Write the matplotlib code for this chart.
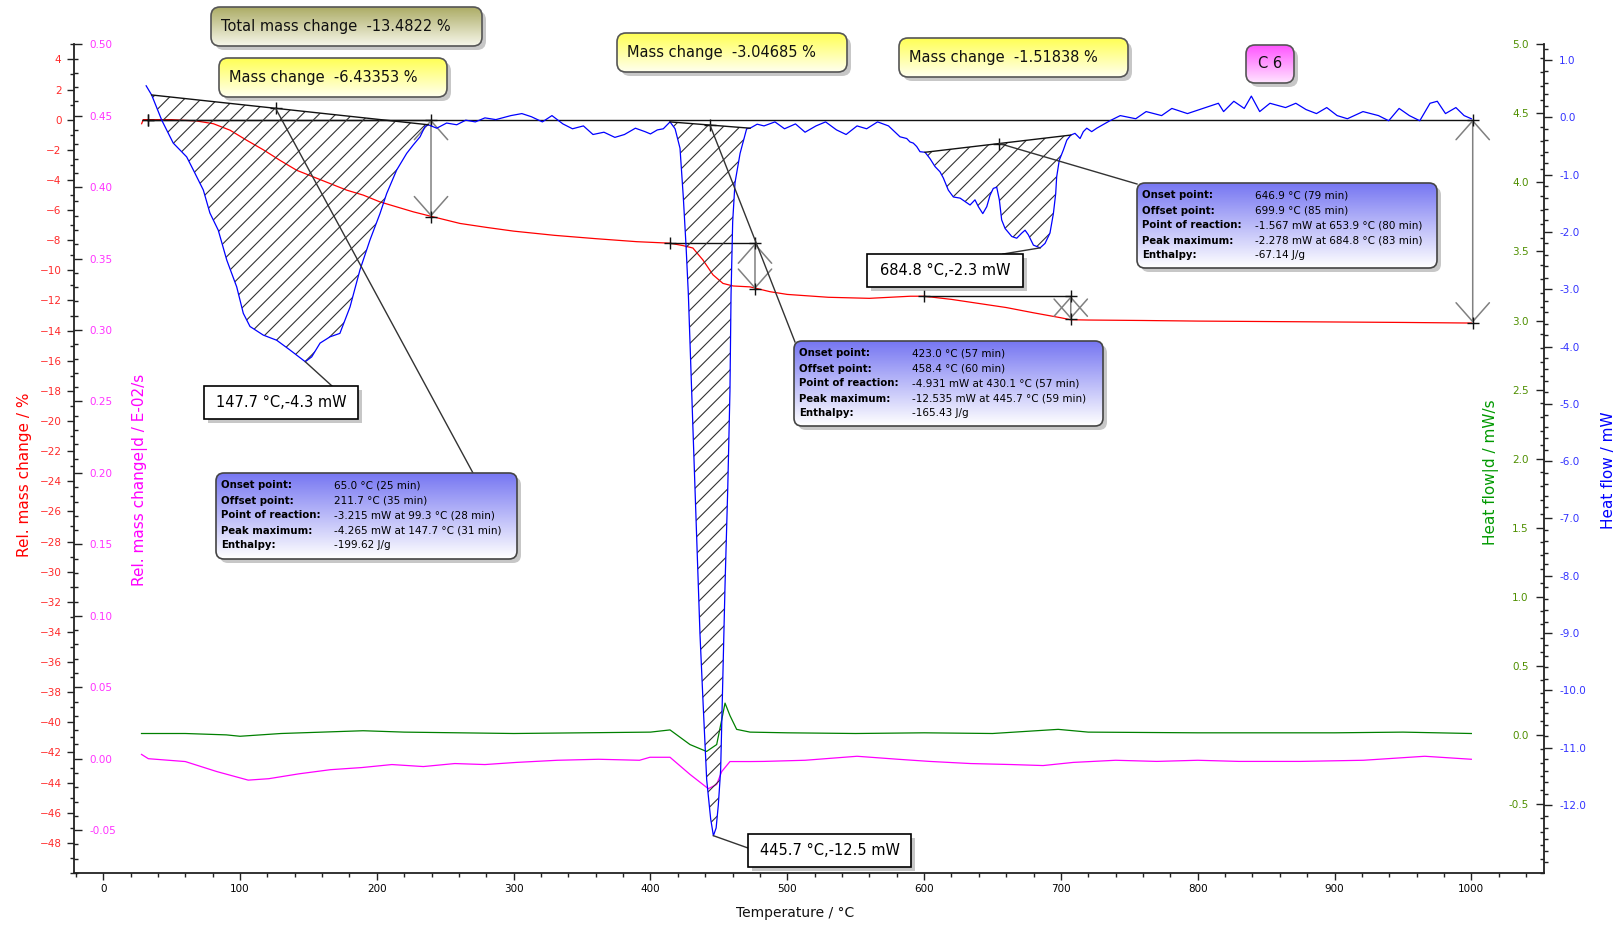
import numpy as np
import matplotlib
matplotlib.use("Agg")
import matplotlib.pyplot as plt
from matplotlib.patches import FancyBboxPatch
from matplotlib.ticker import MultipleLocator, FormatStrFormatter
from matplotlib.colors import to_rgb

plt.rcParams['font.family'] = ['DejaVu Sans']
plt.rcParams['hatch.linewidth'] = 0.8

# ---------------- data ----------------
red_T = [28.1, 29.3, 50, 68.3, 80.5, 92.7, 104.9, 117.0, 129.2, 141.4, 153.6, 165.8, 178.0, 190.1,
         202.3, 214.5, 226.7, 238.9, 260.8, 280, 300, 330, 360, 390, 414.3, 423.8, 431.0, 438.4,
         445.7, 453.0, 460.4, 472.8, 487.4, 500, 530, 560, 590, 600, 620, 640, 660, 680, 700, 707,
         720, 760, 800, 850, 900, 950, 1000]
red_pct = [-0.27, 0.0, 0.0, -0.09, -0.27, -0.7, -1.37, -2.0, -2.7, -3.36, -3.8, -4.24, -4.68, -5.01,
           -5.46, -5.79, -6.12, -6.40, -6.89, -7.15, -7.4, -7.68, -7.9, -8.1, -8.2, -8.36, -8.52, -9.32,
           -10.3, -10.87, -11.04, -11.1, -11.42, -11.6, -11.79, -11.86, -11.72, -11.72, -11.93, -12.2,
           -12.47, -12.82, -13.15, -13.28, -13.3, -13.33, -13.37, -13.4, -13.43, -13.46, -13.5]

blue_T = [31.4, 35.4, 42.8, 51.2, 61.0, 65.9, 73.2, 78.0, 84.1, 90.3, 97.6, 102.4, 107.3, 117.0, 126.8,
          136.5, 147.7, 152.4, 158.5, 165.8, 173.0, 180.4, 187.7, 195.0, 202.3, 207.2, 214.5, 221.8,
          226.7, 231.6, 235.2, 237.6, 243.8, 251.0, 258.4, 265, 272, 279, 287, 298, 306, 313, 321, 328,
          336, 343, 351, 358, 366, 374, 381, 389, 396, 400, 405, 409.4, 414.3, 418, 421.6, 424, 426,
          427.7, 428.9, 430.1, 431.3, 432.6, 433.8, 435.0, 436.2, 438.6, 441.1, 444.0, 446.0, 448.0,
          449.6, 451.3, 452.8, 454.5, 456.5, 458.1, 458.9, 460.1, 461.8, 465.5, 470.3, 472.8, 478, 483,
          491, 498, 506, 513, 521, 528, 536, 543, 551, 558, 566, 574, 582.4, 587.3, 589.7, 592.1, 594.6,
          597.0, 600.7, 604.3, 608.0, 611.6, 614.1, 617.7, 621.4, 626.3, 629.9, 633.6, 637.2, 639.7,
          642.9, 645.8, 648.2, 650.6, 653.1, 655.0, 656.7, 659.2, 664.1, 667.7, 671.4, 673.8, 676.2,
          679.9, 684.8, 688.4, 692.0, 694.5, 696.2, 696.9, 698.8, 701.8, 704.3, 707.2, 710.3, 714.0,
          716.4, 718.9, 722.5, 726.2, 735.8, 743.4, 754.7, 762.3, 773.6, 781.1, 792.5, 803.8, 815.1,
          818.9, 826.4, 834.0, 839.2, 845.3, 852.8, 864.2, 871.7, 879.2, 886.8, 894.3, 901.9, 909.4,
          920.8, 932.1, 939.6, 947.2, 954.7, 962.3, 969.8, 975.1, 981.1, 988.7, 994.7, 1000]
blue_mW = [0.55, 0.39, -0.05, -0.45, -0.69, -0.92, -1.27, -1.67, -1.97, -2.49, -2.96, -3.42, -3.65, -3.80,
           -3.89, -4.06, -4.265, -4.18, -3.94, -3.83, -3.77, -3.31, -2.66, -2.14, -1.68, -1.33, -0.92,
           -0.63, -0.48, -0.34, -0.16, -0.13, -0.19, -0.10, -0.13, -0.05, -0.08, -0.01, -0.04, 0.03,
           0.065, 0.01, -0.08, 0.03, -0.115, -0.2, -0.15, -0.3, -0.26, -0.35, -0.3, -0.19, -0.25, -0.29,
           -0.22, -0.2, -0.08, -0.2, -0.54, -1.39, -2.24, -3.09, -3.93, -4.78, -5.63, -6.47, -7.32,
           -8.17, -9.02, -10.29, -11.56, -12.24, -12.535, -12.4, -12.0, -11.39, -9.86, -8.17, -6.47,
           -4.78, -3.09, -1.82, -1.14, -0.63, -0.2, -0.19, -0.12, -0.15, -0.08, -0.2, -0.115, -0.26,
           -0.15, -0.08, -0.22, -0.3, -0.15, -0.2, -0.08, -0.15, -0.34, -0.37, -0.43, -0.45, -0.51,
           -0.60, -0.61, -0.72, -0.86, -0.95, -1.06, -1.27, -1.39, -1.41, -1.47, -1.53, -1.44, -1.56,
           -1.68, -1.56, -1.36, -1.24, -1.22, -1.44, -1.79, -1.94, -2.08, -2.11, -2.02, -1.97, -2.05,
           -2.23, -2.278, -2.20, -2.02, -1.68, -1.33, -1.04, -0.75, -0.57, -0.40, -0.31, -0.28, -0.37,
           -0.25, -0.19, -0.25, -0.19, -0.06, 0.03, -0.025, 0.10, 0.03, 0.155, 0.065, 0.155, 0.245,
           0.10, 0.28, 0.155, 0.37, 0.10, 0.245, 0.17, 0.245, 0.135, 0.065, 0.17, 0.03, -0.025,
           0.10, 0.03, -0.06, 0.155, 0.03, -0.06, 0.245, 0.28, 0.065, 0.17, 0.03, -0.025]

green_T = [28, 60, 90, 100, 130, 160, 190, 220, 260, 300, 350, 400, 414.3, 428.9, 441, 448.4, 452.1,
           454.5, 458.1, 463, 472.8, 500, 550, 600, 650, 698, 720, 800, 900, 950, 1000]
green_dHF = [0.01, 0.01, 0.0, -0.01, 0.01, 0.02, 0.03, 0.02, 0.015, 0.01, 0.015, 0.02, 0.036, -0.07,
             -0.12, -0.07, 0.11, 0.23, 0.14, 0.04, 0.02, 0.015, 0.01, 0.015, 0.01, 0.04, 0.02, 0.015,
             0.015, 0.02, 0.01]

mag_T = [28, 33, 60, 83, 106, 121, 143, 166, 189, 211, 234, 257, 279, 302, 332, 362, 392, 399.6, 414.3,
         428.9, 442.3, 448.4, 452.1, 458.1, 472.8, 483, 513, 551, 581, 604, 634, 664, 687, 709, 740,
         770, 800, 830, 875, 921, 966, 1000]
mag_dTG = [0.003, 0.0, -0.002, -0.009, -0.015, -0.014, -0.0106, -0.0077, -0.0062, -0.0041, -0.0055,
           -0.0034, -0.0041, -0.0026, -0.0011, -0.0004, -0.0011, 0.001, 0.001, -0.011, -0.021, -0.018,
           -0.009, -0.002, -0.002, -0.0019, -0.0011, 0.0017, -0.0004, -0.0019, -0.0034, -0.0041,
           -0.0048, -0.0026, -0.0011, -0.0019, -0.0011, -0.0019, -0.0019, -0.0011, 0.0017, -0.0004]

# peak-integration baselines (T1, HF1, T2, HF2) and baseline marker temperature
baselines = [(35.4, 0.39, 237.6, -0.13, 126.0),
             (414.3, -0.08, 472.8, -0.19, 443.5),
             (600.7, -0.61, 707.2, -0.31, 655.0)]
peaks = [(147.7, -4.265, "147.7 °C,-4.3 mW"),
         (446.0, -12.535, "445.7 °C,-12.5 mW"),
         (684.8, -2.278, "684.8 °C,-2.3 mW")]

# mass steps: (T_start, T_arrow, mass_top, mass_bottom)
mass_steps = [(32.5, 239.6, 0.0, -6.43353),
              (414.3, 476.4, -8.2, -11.24685),
              (600.0, 707.2, -11.72, -13.23838)]
total_step = (32.5, 1001.0, 0.0, -13.4822)

total_text = "Total mass change  -13.4822 %"
step_texts = ["Mass change  -6.43353 %", "Mass change  -3.04685 %", "Mass change  -1.51838 %"]
sample_text = "C 6"

info_labels = ["Onset point:", "Offset point:", "Point of reaction:", "Peak maximum:", "Enthalpy:"]
info_values = [
    ["65.0 °C (25 min)", "211.7 °C (35 min)", "-3.215 mW at 99.3 °C (28 min)",
     "-4.265 mW at 147.7 °C (31 min)", "-199.62 J/g"],
    ["423.0 °C (57 min)", "458.4 °C (60 min)", "-4.931 mW at 430.1 °C (57 min)",
     "-12.535 mW at 445.7 °C (59 min)", "-165.43 J/g"],
    ["646.9 °C (79 min)", "699.9 °C (85 min)", "-1.567 mW at 653.9 °C (80 min)",
     "-2.278 mW at 684.8 °C (83 min)", "-67.14 J/g"],
]

x_ticks = list(range(0, 1001, 100))
red_ticks = list(range(-48, 5, 2))
mag_ticks = [round(-0.05 + 0.05 * i, 2) for i in range(12)]
green_ticks = [round(-0.5 + 0.5 * i, 1) for i in range(12)]
blue_ticks = [float(v) for v in range(-12, 2)]

# ---------------- figure ----------------
W, H = 1619, 925
fig = plt.figure(figsize=(W / 100, H / 100), dpi=100)
L, R, TOP, BOT = 74, 1544, 44.3, 873
ax = fig.add_axes([L / W, 1 - BOT / H, (R - L) / W, (BOT - TOP) / H])
ax_m = ax.twinx()
ax_g = ax.twinx()
ax_b = ax.twinx()

for a in (ax, ax_m, ax_g, ax_b):
    for s in a.spines.values():
        s.set_visible(False)
for a in (ax_m, ax_g, ax_b):
    a.patch.set_visible(False)

spine_col = '#222222'
ax.spines['left'].set_visible(True)
ax.spines['bottom'].set_visible(True)
ax_b.spines['right'].set_visible(True)
for s in (ax.spines['left'], ax.spines['bottom'], ax_b.spines['right']):
    s.set_color(spine_col)
    s.set_linewidth(1.3)

ax_m.spines['right'].set_position(('axes', 0.0))
ax_g.yaxis.tick_left()
ax_g.yaxis.set_label_position('left')
ax_g.spines['left'].set_position(('axes', 1.0))

ax.set_xlim(-21.34, 1053.1)
ax.set_ylim(-50, 5)
ax_m.set_ylim(-0.08, 0.5)
ax_g.set_ylim(-1.0, 5.0)
ax_b.set_ylim(-13.186, 1.274)

# ticks
ax.set_xticks(x_ticks)
ax.xaxis.set_minor_locator(MultipleLocator(20))
ax.tick_params(axis='x', which='major', direction='out', length=5, width=1, labelsize=7.5,
               color=spine_col, pad=3)
ax.tick_params(axis='x', which='minor', direction='out', length=3, width=1, color=spine_col)

ax.set_yticks(red_ticks)
ax.yaxis.set_minor_locator(MultipleLocator(1))
ax.tick_params(axis='y', which='major', direction='out', length=5, width=1, labelsize=7.5,
               labelcolor='#ff2a2a', color=spine_col, pad=4)
ax.tick_params(axis='y', which='minor', direction='out', length=3, width=1, color=spine_col)

ax_m.set_yticks(mag_ticks)
ax_m.yaxis.set_major_formatter(FormatStrFormatter('%.2f'))
ax_m.yaxis.set_minor_locator(MultipleLocator(0.01))
ax_m.tick_params(axis='y', which='major', direction='out', length=5.5, width=1, labelsize=7.5,
                 labelcolor='#ff33ff', color=spine_col, pad=5.5)
ax_m.tick_params(axis='y', which='minor', direction='out', length=3, width=1, color=spine_col)

ax_g.set_yticks(green_ticks)
ax_g.yaxis.set_major_formatter(FormatStrFormatter('%.1f'))
ax_g.yaxis.set_minor_locator(MultipleLocator(0.1))
ax_g.tick_params(axis='y', which='major', direction='out', length=5.5, width=1, labelsize=7.5,
                 labelcolor='#4f8f00', color=spine_col, pad=5.5)
ax_g.tick_params(axis='y', which='minor', direction='out', length=3, width=1, color=spine_col)

ax_b.set_yticks(blue_ticks)
ax_b.yaxis.set_major_formatter(FormatStrFormatter('%.1f'))
ax_b.yaxis.set_minor_locator(MultipleLocator(0.2))
ax_b.tick_params(axis='y', which='major', direction='out', length=5.5, width=1, labelsize=7.5,
                 labelcolor='#3333ff', color=spine_col, pad=5.5)
ax_b.tick_params(axis='y', which='minor', direction='out', length=3, width=1, color=spine_col)

# axis labels
def place_ylabel(a, text, color, xa, ya):
    a.set_ylabel(text, color=color, fontsize=11)
    a.yaxis.label.set_va('center')
    a.yaxis.label.set_ha('center')
    a.yaxis.set_label_coords(xa, ya)

place_ylabel(ax, "Rel. mass change / %", '#ff0000', (25 - L) / (R - L), (BOT - 475) / (BOT - TOP))
place_ylabel(ax_m, "Rel. mass change|d / E-02/s", '#ff00ff', (139.5 - L) / (R - L), (BOT - 480) / (BOT - TOP))
place_ylabel(ax_g, "Heat flow|d / mW/s", '#009900', (1491 - L) / (R - L), (BOT - 472) / (BOT - TOP))
place_ylabel(ax_b, "Heat flow / mW", '#0000ff', (1608 - L) / (R - L), (BOT - 470) / (BOT - TOP))
ax.set_xlabel("Temperature / °C", fontsize=10, color='#111111')
ax.xaxis.label.set_va('center')
ax.xaxis.set_label_coords((795 - L) / (R - L), (BOT - 913) / (BOT - TOP))

# ---------------- curves ----------------
ax_g.plot(green_T, green_dHF, color='#008000', lw=0.9, zorder=3)
ax_m.plot(mag_T, mag_dTG, color='#ff00ff', lw=0.9, zorder=3)
ax.plot(red_T, red_pct, color='#ff0000', lw=0.9, zorder=3)

# hatched peak areas + baselines
bT = np.array(blue_T)
bH = np.array(blue_mW)
for (t1, h1, t2, h2, tm) in baselines:
    sel = (bT > t1) & (bT < t2)
    px_ = [t1] + list(bT[sel]) + [t2]
    py_ = [h1] + list(bH[sel]) + [h2]
    ax_b.fill(px_, py_, facecolor='none', edgecolor='#333333', hatch='//', linewidth=0, zorder=2)
    ax_b.plot([t1, t2], [h1, h2], color='#111111', lw=1.0, zorder=4)
    hm = np.interp(tm, [t1, t2], [h1, h2])
    ax_b.plot([tm], [hm], marker='+', color='#111111', ms=9, mew=1, zorder=5)
ax_b.plot(blue_T, blue_mW, color='#0000ff', lw=0.9, zorder=3)

# mass step reference lines and arrows
arrow_style = dict(arrowstyle='<->,head_length=0.68,head_width=0.6', color='#808080', lw=1.1,
                   shrinkA=0, shrinkB=0, mutation_scale=20)
ts, ta, mt, mb = total_step
ax.plot([ts, ta], [mt, mt], color='#111111', lw=1.0, zorder=4)
ax.plot([ts, ta, ta], [mt, mt, mb], '+', color='#111111', ms=9, mew=1, zorder=5)
ax.annotate('', xy=(ta, mb), xytext=(ta, mt), arrowprops=arrow_style, zorder=4)
for (ts, ta, mt, mb) in mass_steps:
    ax.plot([ts, ta], [mt, mt], color='#111111', lw=1.0, zorder=4)
    ax.plot([ts, ta, ta], [mt, mt, mb], '+', color='#111111', ms=9, mew=1, zorder=5)
    ax.annotate('', xy=(ta, mb), xytext=(ta, mt), arrowprops=arrow_style, zorder=4)

# ---------------- overlay (boxes, callouts) ----------------
ov = fig.add_axes([0, 0, 1, 1], zorder=10)
ov.set_xlim(0, W)
ov.set_ylim(H, 0)
ov.axis('off')
ov.patch.set_visible(False)


def to_px(a, x, y):
    X, Y = a.transData.transform((x, y))
    return X, H - Y


def grad_box(x, y, w, h, c_top, c_bot, rounding=9, edge='#555555', shadow=True, z=20):
    style = 'round,pad=0,rounding_size=%g' % rounding if rounding > 0 else 'square,pad=0'
    if shadow:
        ov.add_patch(FancyBboxPatch((x + 4, y + 4), w, h, boxstyle=style, fc='#9a9a9a',
                                    ec='none', alpha=0.55, zorder=z))
    p = FancyBboxPatch((x, y), w, h, boxstyle=style, fc='none', ec=edge, lw=1.2, zorder=z + 2)
    ov.add_patch(p)
    t = np.linspace(0, 1, 64)[:, None, None]
    img = (1 - t) * np.array(to_rgb(c_top))[None, None, :] + t * np.array(to_rgb(c_bot))[None, None, :]
    img = np.repeat(img, 2, axis=1)
    im = ov.imshow(img, extent=(x, x + w, y + h, y), aspect='auto', zorder=z + 1,
                   interpolation='bilinear', origin='upper')
    im.set_clip_path(p)


# mass change boxes
grad_box(211, 7, 271, 39, '#acac66', '#f7f7ea')
ov.text(221, 27, total_text, fontsize=10.5, va='center', ha='left', color='#111111', zorder=30)
step_boxes = [(219, 58, 228, 39), (617, 33, 230, 39), (899, 38, 229, 39)]
for (bx, by, bw, bh), s in zip(step_boxes, step_texts):
    grad_box(bx, by, bw, bh, '#ffff55', '#ffffee')
    ov.text(bx + 10, by + bh / 2, s, fontsize=10.5, va='center', ha='left', color='#111111', zorder=30)
grad_box(1246, 45, 48, 38, '#ff55ff', '#ffe4ff')
ov.text(1270, 64, sample_text, fontsize=10.5, va='center', ha='center', color='#111111', zorder=30)

# info boxes + callout lines from baseline markers
info_boxes = [(216, 473, 301, 86), (794, 341, 309, 85), (1137, 183, 300, 85)]
callout_end = [(473, 473), (795, 342), (1137, 184)]
for (bx, by, bw, bh), vals, (t1, h1, t2, h2, tm), ce in zip(info_boxes, info_values, baselines, callout_end):
    hm = np.interp(tm, [t1, t2], [h1, h2])
    mx, my = to_px(ax_b, tm, hm)
    ov.plot([mx, ce[0]], [my, ce[1]], color='#333333', lw=1.0, zorder=15)
    grad_box(bx, by, bw, bh, '#7777f2', '#ffffff', rounding=8, edge='#444444')
    for i, (lab, val) in enumerate(zip(info_labels, vals)):
        yy = by + 12.5 + 15 * i
        ov.text(bx + 5, yy, lab, fontsize=7.3, fontweight='bold', va='center', ha='left',
                color='#000000', zorder=30)
        ov.text(bx + 118, yy, val, fontsize=7.5, va='center', ha='left', color='#000000', zorder=30)

# peak labels
peak_boxes = [(204, 386, 154, 33), (748, 834, 163, 33), (867, 254, 156, 33)]
peak_line_end = [(332, 386), (748, 848), (1003, 254)]
for (pt, ph, s), (bx, by, bw, bh), pe in zip(peaks, peak_boxes, peak_line_end):
    mx, my = to_px(ax_b, pt, ph)
    ov.plot([mx, pe[0]], [my, pe[1]], color='#333333', lw=1.0, zorder=15)
    grad_box(bx, by, bw, bh, '#ffffff', '#ffffff', rounding=0, edge='#000000')
    ov.text(bx + bw / 2, by + bh / 2, s, fontsize=10.5, va='center', ha='center', color='#000000',
            zorder=30)

ov.set_xlim(0, W)
ov.set_ylim(H, 0)

fig.savefig('out.png', dpi=100, facecolor='white')
